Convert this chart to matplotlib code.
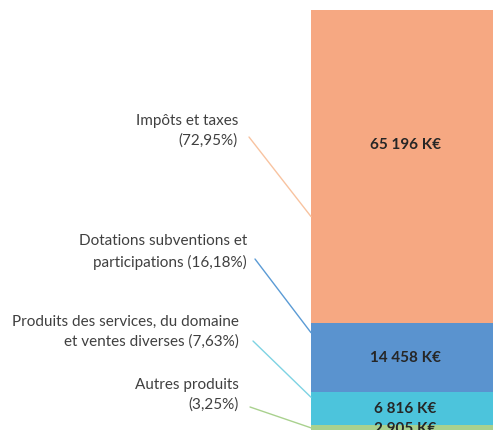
import matplotlib
matplotlib.use("Agg")
import matplotlib.pyplot as plt

# recettes de fonctionnement (K€)
categories = ["Impôts et taxes", "Dotations subventions et\nparticipations",
              "Produits des services, du domaine\net ventes diverses", "Autres produits"]
values = [65196, 14458, 6816, 2905]
percents = ["72,95%", "16,18%", "7,63%", "3,25%"]
value_labels = ["65 196 K€", "14 458 K€", "6 816 K€", "2 905 K€"]
label_texts = ["Impôts et taxes\n(72,95%)", "Dotations subventions et\nparticipations (16,18%)",
               "Produits des services, du domaine\net ventes diverses (7,63%)", "Autres produits\n(3,25%)"]

colors = ["#F6A882", "#5A93CF", "#4CC4DC", "#A9D18E"]
line_colors = ["#F8C3A0", "#5B9BD5", "#7ED3E3", "#A9D18E"]

W, H = 493, 430
fig = plt.figure(figsize=(W / 100, H / 100), dpi=100)
fig.patch.set_facecolor("white")

# axes pushed a little below/right of the canvas so the bar is cropped like the original
ax = fig.add_axes([311 / W, -9 / H, (500 - 311) / W, 429 / H])
ax.set_axis_off()

total = sum(values)
ax.set_xlim(-0.5, 0.5)
ax.set_ylim(0, total)

# stack from the bottom: autres, produits, dotations, impôts
order = [3, 2, 1, 0]
bottom = 0
bottoms = {}
for i in order:
    ax.bar(0, values[i], width=1, bottom=bottom, color=colors[i], edgecolor="none")
    bottoms[i] = bottom
    bottom += values[i]

# where the value label sits inside each segment (fraction of its height)
label_frac = [0.57, 0.5, 0.5, 0.75]
for i in order:
    ax.text(0, bottoms[i] + values[i] * label_frac[i], value_labels[i], ha="center", va="center",
            fontsize=11, fontweight="bold", color="#262626", family="Lato")

# label positions (fig pixels, right edge / centre of two lines) and where the leader hits the bar
text_pos = [(238, 131), (247, 252), (239, 332), (239, 395)]
line_start = [(249, 137), (255, 259), (253, 341), (250, 407)]
hit_frac = [0.34, 0.86, 0.85, 0.8]

for i in range(4):
    tx, ty = text_pos[i]
    fig.text(tx / W, 1 - ty / H, label_texts[i], ha="right", va="center",
             fontsize=11, color="#404040", family="Lato", linespacing=1.5)
    sx, sy = line_start[i]
    ax.annotate("", xy=(-0.5, bottoms[i] + hit_frac[i] * values[i]), xycoords="data",
                xytext=(sx / W, 1 - sy / H), textcoords="figure fraction",
                arrowprops=dict(arrowstyle="-", color=line_colors[i], lw=1,
                                shrinkA=0, shrinkB=0),
                annotation_clip=False)

fig.savefig("out.png", dpi=100)
